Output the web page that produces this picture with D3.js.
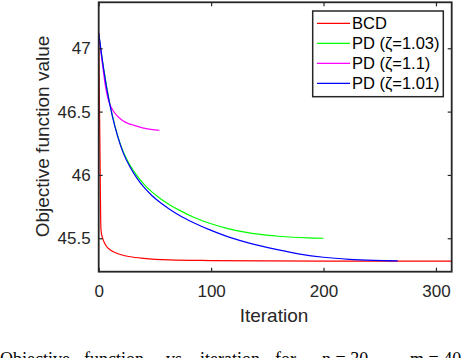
<!DOCTYPE html>
<html>
<head>
<meta charset="utf-8">
<script src="https://cdn.jsdelivr.net/npm/d3@7"></script>
<style>
  body { margin: 0; background: #fff; }
  svg { display: block; font-family: "Liberation Sans", Arial, sans-serif; }
</style>
</head>
<body>
<div id="container"></div>
<script>
"use strict";

const width = 468;
const height = 358;

const axisColor = "#262626";

// BCD
const bcdIter = [0, 1, 2, 3, 4, 5, 7, 10, 13, 20, 28, 40, 63, 100, 150, 200, 250, 314];
const bcdValue = [47.06, 46.3, 45.57, 45.515, 45.487, 45.466, 45.435, 45.41, 45.394, 45.37, 45.354, 45.341, 45.329, 45.324, 45.321, 45.32, 45.32, 45.32];

// PD zeta = 1.03
const pd103Iter = [0, 3, 7, 12, 17, 22, 28, 34, 40, 47, 55, 63, 72, 84, 100, 114, 130, 144, 160, 173, 186, 200];
const pd103Value = [47.12, 46.92, 46.7, 46.475, 46.305, 46.18, 46.075, 45.995, 45.93, 45.868, 45.812, 45.765, 45.72, 45.668, 45.615, 45.578, 45.548, 45.53, 45.516, 45.508, 45.503, 45.5];

// PD zeta = 1.1
const pd11Iter = [0, 2, 4, 6, 8, 10, 13, 16, 20, 24, 27, 30, 33, 36, 40, 45, 50, 54];
const pd11Value = [47.12, 46.97, 46.83, 46.7, 46.61, 46.555, 46.505, 46.47, 46.438, 46.415, 46.403, 46.396, 46.387, 46.379, 46.37, 46.362, 46.356, 46.353];

// PD zeta = 1.01
const pd101Iter = [0, 3, 7, 12, 17, 22, 28, 34, 40, 47, 55, 63, 72, 84, 100, 114, 130, 144, 160, 179, 200, 223, 245, 266];
const pd101Value = [47.12, 46.92, 46.69, 46.47, 46.3, 46.17, 46.06, 45.975, 45.905, 45.84, 45.78, 45.73, 45.68, 45.625, 45.562, 45.515, 45.472, 45.44, 45.408, 45.375, 45.35, 45.334, 45.326, 45.322];

const seriesNames = ["BCD", "PD (ζ=1.03)", "PD (ζ=1.1)", "PD (ζ=1.01)"];
const seriesColors = ["#ff0000", "#00ff00", "#ff00ff", "#0000ff"];
const seriesIters = [bcdIter, pd103Iter, pd11Iter, pd101Iter];
const seriesValues = [bcdValue, pd103Value, pd11Value, pd101Value];

const xTicks = [0, 100, 200, 300];
const yTicks = [45.5, 46, 46.5, 47];
const xDomain = [0, 314];
const yDomain = [45.236, 47.363];

const plotLeft = 98.7;
const plotRight = 451.7;
const plotTop = 2.3;
const plotBottom = 271.7;

const x = d3.scaleLinear().domain(xDomain).range([plotLeft, plotRight]);
const y = d3.scaleLinear().domain(yDomain).range([plotBottom, plotTop]);

const svg = d3.select("#container")
  .append("svg")
  .attr("width", width)
  .attr("height", height);

// lines
const line = d3.line()
  .x(d => x(d[0]))
  .y(d => y(d[1]))
  .curve(d3.curveMonotoneX);

seriesNames.forEach((name, i) => {
  const pts = seriesIters[i].map((it, j) => [it, seriesValues[i][j]]);
  svg.append("path")
    .datum(pts)
    .attr("d", line)
    .attr("fill", "none")
    .attr("stroke", seriesColors[i])
    .attr("stroke-width", 1.2);
});

// axes
function styleAxis(g) {
  g.select(".domain").remove();
  g.selectAll(".tick line").attr("stroke", axisColor).attr("stroke-width", 1.2);
  g.selectAll(".tick text")
    .attr("fill", axisColor)
    .style("font-size", "17px")
    .style("font-family", "'Liberation Sans', Arial, sans-serif");
}

svg.append("g")
  .attr("transform", `translate(0,${plotBottom})`)
  .call(d3.axisBottom(x).tickValues(xTicks).tickSizeInner(-4).tickSizeOuter(0).tickPadding(13).tickFormat(d3.format("d")))
  .call(styleAxis);

svg.append("g")
  .attr("transform", `translate(0,${plotTop})`)
  .call(d3.axisTop(x).tickValues(xTicks).tickSizeInner(-4).tickSizeOuter(0).tickFormat(""))
  .call(styleAxis);

svg.append("g")
  .attr("transform", `translate(${plotLeft},0)`)
  .call(d3.axisLeft(y).tickValues(yTicks).tickSizeInner(-4).tickSizeOuter(0).tickPadding(8).tickFormat(d => String(d)))
  .call(styleAxis);

svg.append("g")
  .attr("transform", `translate(${plotRight},0)`)
  .call(d3.axisRight(y).tickValues(yTicks).tickSizeInner(-4).tickSizeOuter(0).tickFormat(""))
  .call(styleAxis);

svg.append("rect")
  .attr("x", plotLeft)
  .attr("y", plotTop)
  .attr("width", plotRight - plotLeft)
  .attr("height", plotBottom - plotTop)
  .attr("fill", "none")
  .attr("stroke", axisColor)
  .attr("stroke-width", 1.8);

// axis labels
svg.append("text")
  .attr("x", 274)
  .attr("y", 321.7)
  .attr("text-anchor", "middle")
  .attr("fill", axisColor)
  .style("font-size", "19px")
  .text("Iteration");

svg.append("text")
  .attr("transform", "translate(48.5,136.5) rotate(-90)")
  .attr("text-anchor", "middle")
  .attr("fill", axisColor)
  .style("font-size", "19px")
  .text("Objective function value");

// legend
const legend = svg.append("g");

legend.append("rect")
  .attr("x", 312.7)
  .attr("y", 11)
  .attr("width", 130.6)
  .attr("height", 85.7)
  .attr("fill", "#fff")
  .attr("stroke", axisColor)
  .attr("stroke-width", 1.5);

seriesNames.forEach((name, i) => {
  const ly = 23.3 + i * 20;
  legend.append("line")
    .attr("x1", 317)
    .attr("x2", 350)
    .attr("y1", ly)
    .attr("y2", ly)
    .attr("stroke", seriesColors[i])
    .attr("stroke-width", 1.2);
  legend.append("text")
    .attr("x", 352)
    .attr("y", ly + 6)
    .attr("fill", "#000")
    .style("font-size", "16.5px")
    .text(name);
});

// caption cut off at the bottom of the picture
const captionWords = ["Objective", "function", "vs.", "iteration", "for", "n = 30,", "m = 40"];
const captionX = [0, 84, 166, 200, 275, 322, 410];

const caption = svg.append("text")
  .attr("y", 364.5)
  .attr("fill", "#000")
  .style("font-family", "'Liberation Serif', 'Times New Roman', serif")
  .style("font-size", "18px");

captionWords.forEach((w, i) => {
  caption.append("tspan").attr("x", captionX[i]).text(w);
});
</script>
</body>
</html>
